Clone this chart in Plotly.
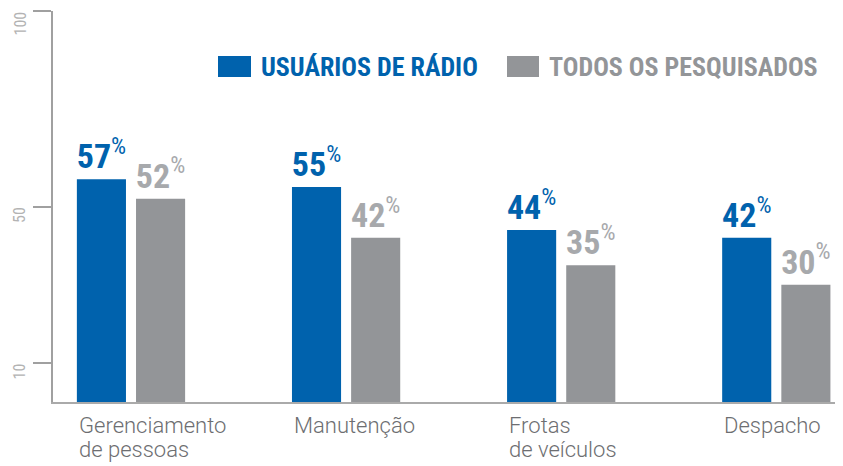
import plotly.graph_objects as go

# ---- data ----
categories = ["Gerenciamento de pessoas", "Manutenção", "Frotas de veículos", "Despacho"]
label_lines = [["Gerenciamento", "de pessoas"], ["Manutenção"], ["Frotas", "de veículos"], ["Despacho"]]
series_names = ["USUÁRIOS DE RÁDIO", "TODOS OS PESQUISADOS"]
radio_users = [57, 55, 44, 42]
all_surveyed = [52, 42, 35, 30]
y_ticks = [10, 50, 100]

BLUE = "#0062ad"
GRAY = "#939598"
GRAY_LABEL = "#a7a9ac"
FONT_COND = "Roboto Condensed, Roboto, sans-serif"
FONT_LABEL = "Roboto, sans-serif"

def pct(vals):
    return [f"{v}<sup><span style='font-weight:normal'>%</span></sup>" for v in vals]

fig = go.Figure()
fig.add_trace(go.Bar(
    x=categories, y=radio_users, name=series_names[0],
    marker=dict(color=BLUE, line=dict(width=0)),
    text=pct(radio_users), textposition="outside", constraintext="none",
    cliponaxis=False,
    textfont=dict(family=FONT_COND, size=34, color=BLUE, weight="bold"),
    hoverinfo="skip",
))
fig.add_trace(go.Bar(
    x=categories, y=all_surveyed, name=series_names[1],
    marker=dict(color=GRAY, line=dict(width=0)),
    text=pct(all_surveyed), textposition="outside", constraintext="none",
    cliponaxis=False,
    textfont=dict(family=FONT_COND, size=34, color=GRAY_LABEL, weight="bold"),
    hoverinfo="skip",
))

# page body has an 8px margin; figure is sized so it fills the 843x466 window
OFF = 8
W, H = 843 - OFF, 466 - OFF
ML, MR, MT, MB = 53 - OFF, 0, 11 - OFF, 64
pw = W - ML - MR
ph = H - MT - MB

def px_x(p):  # p: pixel x in window coordinates
    return (p - OFF - ML) / pw

def px_y(p):  # p: pixel y in window coordinates
    return (H - MB - (p - OFF)) / ph

annotations = []
# category labels (left aligned under each group)
for cat, lines in zip(categories, label_lines):
    for i, line in enumerate(lines):
        annotations.append(dict(
            x=cat, xref="x", y=0, yref="paper",
            text=line, showarrow=False,
            xanchor="left", yanchor="top",
            xshift=-54, yshift=-9 - 24 * i,
            font=dict(family=FONT_LABEL, size=22, color="#6d6e71", weight=300),
        ))

# rotated y tick labels, text ending at the tick
for t in y_ticks:
    annotations.append(dict(
        x=0, xref="paper", y=t, yref="y", text=str(t), showarrow=False,
        textangle=-90, xanchor="right", yanchor="top", xshift=-22, yshift=1,
        font=dict(family=FONT_COND, size=16, color="#b3b3b3"),
    ))

# legend (custom swatches + labels)
shapes = []
legend_items = [(series_names[0], BLUE, 218, 251, 259), (series_names[1], GRAY, 507, 539, 547)]
for name, col, x0, x1, tx in legend_items:
    shapes.append(dict(type="rect", xref="paper", yref="paper",
                       x0=px_x(x0), x1=px_x(x1), y0=px_y(77), y1=px_y(56),
                       fillcolor=col, line=dict(width=0)))
    annotations.append(dict(
        x=px_x(tx), xref="paper", y=px_y(67), yref="paper",
        text=name, showarrow=False, xanchor="left", yanchor="middle",
        font=dict(family=FONT_COND, size=26, color=col, weight="bold"),
    ))

fig.update_layout(
    width=W, height=H,
    margin=dict(l=ML, r=MR, t=MT, b=MB, pad=0, autoexpand=False),
    paper_bgcolor="white", plot_bgcolor="white",
    barmode="group", bargap=0.45, bargroupgap=0.17,
    showlegend=False,
    annotations=annotations, shapes=shapes,
    xaxis=dict(
        type="category", range=[-0.3626, 3.3101], automargin=False,
        showline=True, linecolor="#aaaaaa", linewidth=2,
        showticklabels=False, ticks="", showgrid=False, zeroline=False,
        fixedrange=True,
    ),
    yaxis=dict(
        range=[0, 100], tickvals=y_ticks, showticklabels=False,
        automargin=False,
        ticks="outside", ticklen=18, tickwidth=1.5, tickcolor="#a0a0a0",
        showline=True, linecolor="#a0a0a0", linewidth=1.5,
        showgrid=False, zeroline=False,
        fixedrange=True,
    ),
)

fig.write_html("out.html", config={"displayModeBar": False})
